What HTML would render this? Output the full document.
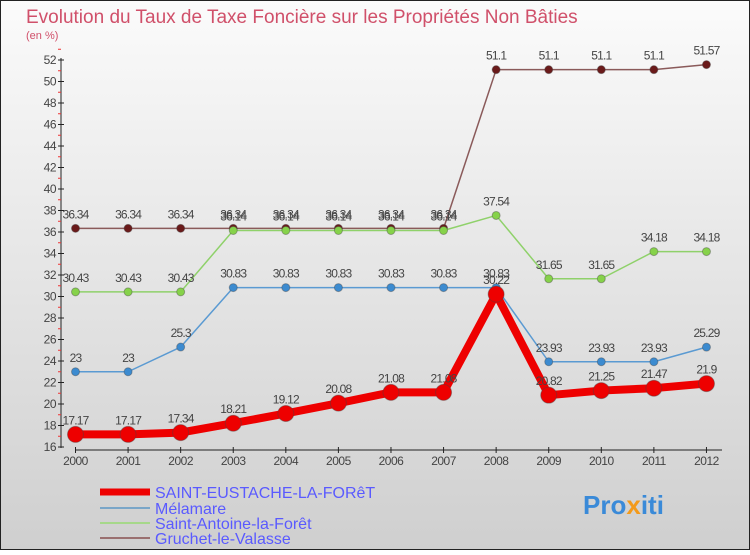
<!DOCTYPE html>
<html><head><meta charset="utf-8"><style>
html,body{margin:0;padding:0}
body{width:750px;height:550px;overflow:hidden;font-family:"Liberation Sans",sans-serif}
</style></head><body>
<svg width="750" height="550" xmlns="http://www.w3.org/2000/svg">
<defs><linearGradient id="bg" x1="0" y1="0" x2="0" y2="1"><stop offset="0" stop-color="#fbfbfb"/><stop offset="1" stop-color="#cfcfcf"/></linearGradient></defs>
<rect x="0" y="0" width="750" height="550" fill="url(#bg)"/>
<rect x="0.5" y="0.5" width="749" height="549" fill="none" stroke="#222"/>
<text x="26" y="23" font-size="19" fill="#d0506a">Evolution du Taux de Taxe Foncière sur les Propriétés Non Bâties</text>
<text x="26" y="39" font-size="11" fill="#d0506a">(en %)</text>
<g id="axes"></g>
<g id="series"></g>
<g id="legend">
<line x1="100" y1="492" x2="150" y2="492" stroke="#e00" stroke-width="7"/>
<text x="155" y="498" font-size="16" fill="#5a5aff">SAINT-EUSTACHE-LA-FORêT</text>
<line x1="100" y1="508" x2="150" y2="508" stroke="#7aa6c8" stroke-width="2"/>
<text x="155" y="514" font-size="16" fill="#5a5aff">Mélamare</text>
<line x1="100" y1="523" x2="150" y2="523" stroke="#a6d88a" stroke-width="2"/>
<text x="155" y="529" font-size="16" fill="#5a5aff">Saint-Antoine-la-Forêt</text>
<line x1="100" y1="538" x2="150" y2="538" stroke="#9a7070" stroke-width="2"/>
<text x="155" y="544" font-size="16" fill="#5a5aff">Gruchet-le-Valasse</text>
</g>
<text x="583" y="514" font-size="26" font-weight="bold" fill="#3a8ad8">Pro<tspan fill="#f39a1a">x</tspan>iti</text>
</svg>
<script>
const years=[2000,2001,2002,2003,2004,2005,2006,2007,2008,2009,2010,2011,2012];
const yTicks=[16,18,20,22,24,26,28,30,32,34,36,38,40,42,44,46,48,50,52];
const stEustache=[17.17,17.17,17.34,18.21,19.12,20.08,21.08,21.08,30.22,20.82,21.25,21.47,21.9];
const melamare=[23,23,25.3,30.83,30.83,30.83,30.83,30.83,30.83,23.93,23.93,23.93,25.29];
const stAntoine=[30.43,30.43,30.43,36.14,36.14,36.14,36.14,36.14,37.54,31.65,31.65,34.18,34.18];
const gruchet=[36.34,36.34,36.34,36.34,36.34,36.34,36.34,36.34,51.1,51.1,51.1,51.1,51.57];
const NS="http://www.w3.org/2000/svg";
const X=i=>75.5+i*52.58;
const Y=v=>447-(v-16)*10.75;
function el(t,a,p){const e=document.createElementNS(NS,t);for(const k in a)e.setAttribute(k,a[k]);p.appendChild(e);return e;}
const ax=document.getElementById('axes');
let l=el('line',{x1:61,y1:58,x2:61,y2:448,stroke:'#222'},ax);


yTicks.forEach(v=>{
 el('line',{x1:58,y1:Y(v),x2:64,y2:Y(v),stroke:'#222'},ax);
 el('line',{x1:58,y1:Y(v+1),x2:61,y2:Y(v+1),stroke:'#e33'},ax);
 const t=el('text',{x:56,y:Y(v)+4,'font-size':12,'text-anchor':'end',fill:'#444','letter-spacing':'-0.5'},ax);
 t.textContent=v;
 
 
});
l=el('line',{x1:75,y1:450,x2:722,y2:450,stroke:'#222'},ax);


years.forEach((y,i)=>{
 el('line',{x1:X(i),y1:447,x2:X(i),y2:453,stroke:'#222'},ax);
 const t=el('text',{x:X(i),y:465,'font-size':12,'text-anchor':'middle',fill:'#444','letter-spacing':'-0.5'},ax);
 t.textContent=y;
 
 
});
const sg=document.getElementById('series');
function series(name,data,color,dot,w,r,fmt){
 const g=el('g',{},sg);
 
 
 const p=el('polyline',{points:data.map((v,i)=>X(i)+','+Y(v)).join(' '),fill:'none',stroke:color,'stroke-width':w,'stroke-linejoin':'round'},g);
 
 
 data.forEach((v,i)=>{
  const c=el('circle',{cx:X(i),cy:Y(v),r:r,fill:dot,stroke:'#444','stroke-opacity':0.4},g);
  
  
  const t=el('text',{x:X(i),y:Y(v)-10,'font-size':12,'text-anchor':'middle',fill:'#444','letter-spacing':'-0.8'},g);
  t.textContent=String(v).replace('.','.');
  
  
 });
}
series('gruchet',gruchet,'#8a5a5a','#6a1a1a',1.5,4);
series('saint-antoine',stAntoine,'#8fd16a','#86d24a',1.5,4);
series('melamare',melamare,'#5a9ad2','#3c8bd0',1.5,4);
series('saint-eustache',stEustache,'#ee0000','#ee0000',8,8);
</script>
</body></html>
